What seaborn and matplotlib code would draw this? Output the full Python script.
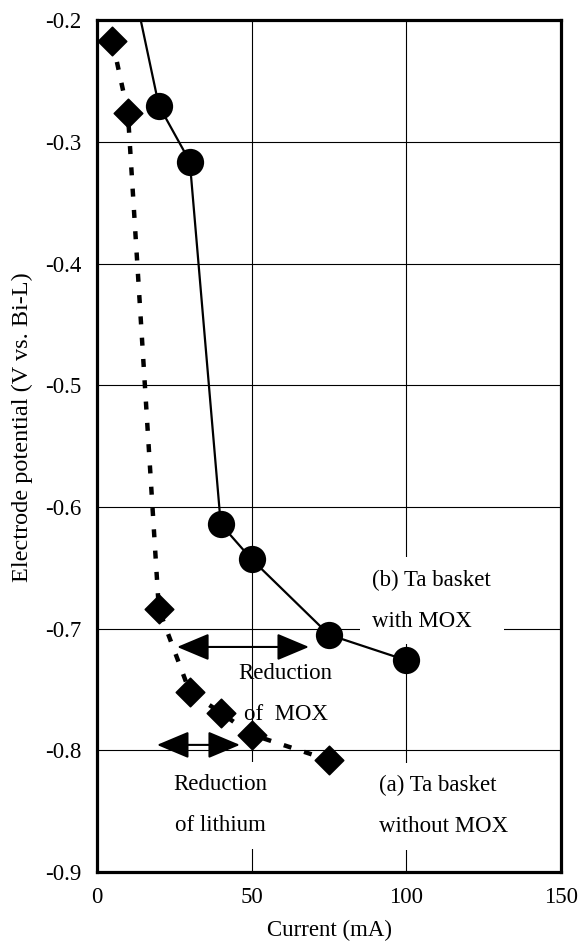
import pandas as pd
import seaborn as sns
import matplotlib.pyplot as plt

# (b) Ta basket with MOX - measured points
b_current = [20, 30, 40, 50, 75, 100]
b_potential = [-0.270, -0.316, -0.614, -0.643, -0.705, -0.726]
# the curve for (b) runs in from above the plot top
b_curve_current = [10] + b_current
b_curve_potential = [-0.15] + b_potential

# (a) Ta basket without MOX
a_current = [5, 10, 20, 30, 40, 50, 75]
a_potential = [-0.217, -0.276, -0.684, -0.752, -0.769, -0.787, -0.808]

x_ticks = [0, 50, 100, 150]
y_ticks = [-0.9, -0.8, -0.7, -0.6, -0.5, -0.4, -0.3, -0.2]

sns.set_theme(style="white")
plt.rcParams['font.family'] = ['Liberation Serif', 'DejaVu Serif']
plt.rcParams['axes.unicode_minus'] = False
plt.rcParams['text.color'] = 'black'
plt.rcParams['axes.labelcolor'] = 'black'

FS = 16.5

df_a = pd.DataFrame({"current": a_current, "potential": a_potential})
df_b = pd.DataFrame({"current": b_current, "potential": b_potential})
df_b_curve = pd.DataFrame({"current": b_curve_current, "potential": b_curve_potential})

fig = plt.figure(figsize=(5.84, 9.41), dpi=100)
ax = fig.add_axes([0.166, 0.0733, 0.795, 0.905])

sns.lineplot(data=df_b_curve, x="current", y="potential", color="black",
             linewidth=1.6, sort=False, ax=ax, zorder=3)
sns.lineplot(data=df_a, x="current", y="potential", color="black",
             linewidth=3.2, sort=False, ax=ax, zorder=3)
ax.lines[-1].set_dashes((1.8, 3.0))
sns.scatterplot(data=df_b, x="current", y="potential", marker="o", s=330,
                color="black", edgecolor="black", ax=ax, zorder=4)
sns.scatterplot(data=df_a, x="current", y="potential", marker="D", s=210,
                color="black", edgecolor="black", ax=ax, zorder=4)

ax.set_xlim(0, 150)
ax.set_ylim(-0.9, -0.2)
ax.set_xticks(x_ticks)
ax.set_yticks(y_ticks)
ax.set_xticklabels([str(t) for t in x_ticks])
ax.set_yticklabels(["%.1f" % t for t in y_ticks])
ax.tick_params(length=0, labelsize=FS, colors="black")
ax.tick_params(axis="x", pad=11)
ax.tick_params(axis="y", pad=11)
ax.grid(True, color="black", linewidth=0.8)
ax.set_axisbelow(True)
for sp in ax.spines.values():
    sp.set_visible(True)
    sp.set_color("black")
    sp.set_linewidth(2.3)

ax.set_xlabel("Current (mA)", fontsize=FS, labelpad=8)
ax.set_ylabel("Electrode potential (V vs. Bi-L)", fontsize=17.5)
ax.yaxis.set_label_coords(-0.137, 0.523)

arrow_kw = dict(arrowstyle="<|-|>,head_length=1.0,head_width=0.42",
                color="black", lw=1.5, mutation_scale=20, shrinkA=0, shrinkB=0)
ax.annotate("", xy=(68.5, -0.715), xytext=(25.9, -0.715), arrowprops=arrow_kw, zorder=5)
ax.annotate("", xy=(46.2, -0.7955), xytext=(19.4, -0.7955), arrowprops=arrow_kw, zorder=5)

box = dict(boxstyle="square,pad=0.55", facecolor="white", edgecolor="none")
ax.text(89, -0.677, "(b) Ta basket\nwith MOX", fontsize=FS, ha="left", va="center",
        linespacing=2.25, bbox=box, zorder=2)
ax.text(61, -0.754, "Reduction\nof  MOX", fontsize=FS, ha="center", va="center",
        linespacing=2.25, zorder=2)
ax.text(40, -0.845, "Reduction\nof lithium", fontsize=FS, ha="center", va="center",
        linespacing=2.25, bbox=box, zorder=2)
ax.text(91, -0.846, "(a) Ta basket\nwithout MOX", fontsize=FS, ha="left", va="center",
        linespacing=2.25, bbox=box, zorder=2)

plt.savefig("out.png", dpi=100)
